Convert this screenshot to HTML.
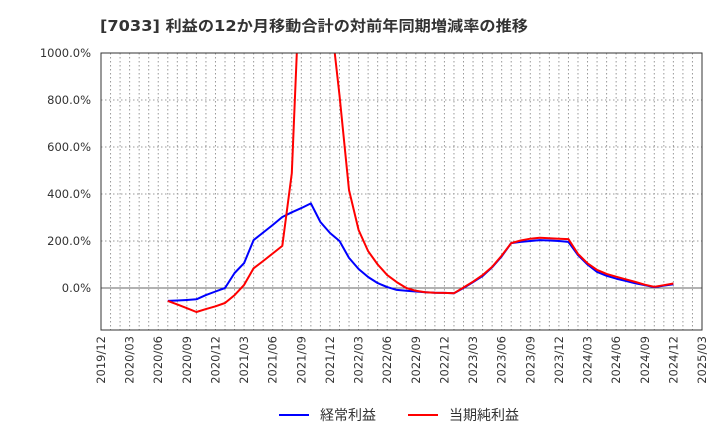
<!DOCTYPE html>
<html><head><meta charset="utf-8"><style>
body{margin:0;background:#fff;font-family:"DejaVu Sans","Noto Sans CJK JP",sans-serif}
</style></head><body>
<svg id="c" width="720" height="440" xmlns="http://www.w3.org/2000/svg" font-family="DejaVu Sans, Noto Sans CJK JP, sans-serif">
<text x="100" y="31" font-size="15" font-weight="bold" fill="#333" textLength="428" lengthAdjust="spacingAndGlyphs">[7033]  利益の12か月移動合計の対前年同期増減率の推移</text>
<defs><clipPath id="clip"><rect x="101" y="53" width="601" height="277"/></clipPath></defs>
<g id="grid"></g><g id="series" clip-path="url(#clip)"></g><g id="axes"></g>
<g>
<line x1="279" y1="415" x2="309" y2="415" stroke="#0000ff" stroke-width="2"/>
<text x="320" y="420" font-size="14" fill="#333">経常利益</text>
<line x1="408" y1="415" x2="438" y2="415" stroke="#ff0000" stroke-width="2"/>
<text x="449" y="420" font-size="14" fill="#333">当期純利益</text>
</g>
</svg>
<script>
const yTicks=[0,200,400,600,800,1000];
const blue=[-55,-53,-51,-48,-30,-15,0,64,106,204,236,268,302,322,340,360,281,234,200,128,81,47,21,4,-8,-12,-15,-18,-20,-21,-22,0,25,51,88,135,191,196,200,204,202,200,196,140,100,68,52,40,30,20,12,4,10,16];
const red=[-55,-70,-86,-102,-90,-78,-64,-30,13,84,115,147,179,488,1460,2000,1800,1180,820,417,247,157,100,55,25,0,-12,-18,-20,-21,-22,2,27,55,90,138,191,202,210,214,212,210,208,145,105,77,60,48,37,26,14,5,12,19];
const startMonth=7;
const NS="http://www.w3.org/2000/svg";
const L=101,R=702,T=53,B=330,months=63;
const X=m=>L+(R-L)*m/months;
const Y=v=>288-(v/1000)*235;
function mk(tag,at,parent){const e=document.createElementNS(NS,tag);for(const k in at)e.setAttribute(k,at[k]);document.getElementById(parent).appendChild(e);return e;}
for(let m=0;m<=months;m++){
 const e=mk('line',{x1:X(m),x2:X(m),y1:T,y2:B,stroke:'#999','stroke-dasharray':'1.5,2.5','stroke-width':1},'grid');
 
}
yTicks.forEach(v=>{
 const e=mk('line',{x1:L,x2:R,y1:Y(v),y2:Y(v),stroke:v===0?'#666':'#999','stroke-dasharray':v===0?'none':'1.5,2.5','stroke-width':1},'grid');
 
 const t=mk('text',{x:L-10,y:Y(v)+4,'text-anchor':'end','font-size':11.5,fill:'#333'},'axes');
 
 t.textContent=v.toFixed(1)+'%';
});
const fr=mk('rect',{x:L,y:T,width:R-L,height:B-T,fill:'none',stroke:'#333','stroke-width':1},'axes');

for(let m=0;m<=months;m+=3){
 const yr=2019+Math.floor((11+m)/12),mo=((11+m)%12)+1;
 const t=mk('text',{x:0,y:0,'text-anchor':'end','font-size':11.5,fill:'#333',transform:`translate(${X(m)+4},${B+6}) rotate(-90)`},'axes');
 
 t.textContent=yr+'/'+String(mo).padStart(2,'0');
}
function line(d,c,n){const p=d.map((v,i)=>X(startMonth+i).toFixed(1)+','+Y(v).toFixed(1)).join(' ');
 const e=mk('polyline',{points:p,fill:'none',stroke:c,'stroke-width':2,'stroke-linejoin':'round'},'series');
 }
line(blue,'#0000ff','ordinary-profit-line');
line(red,'#ff0000','net-profit-line');
</script>
</body></html>
